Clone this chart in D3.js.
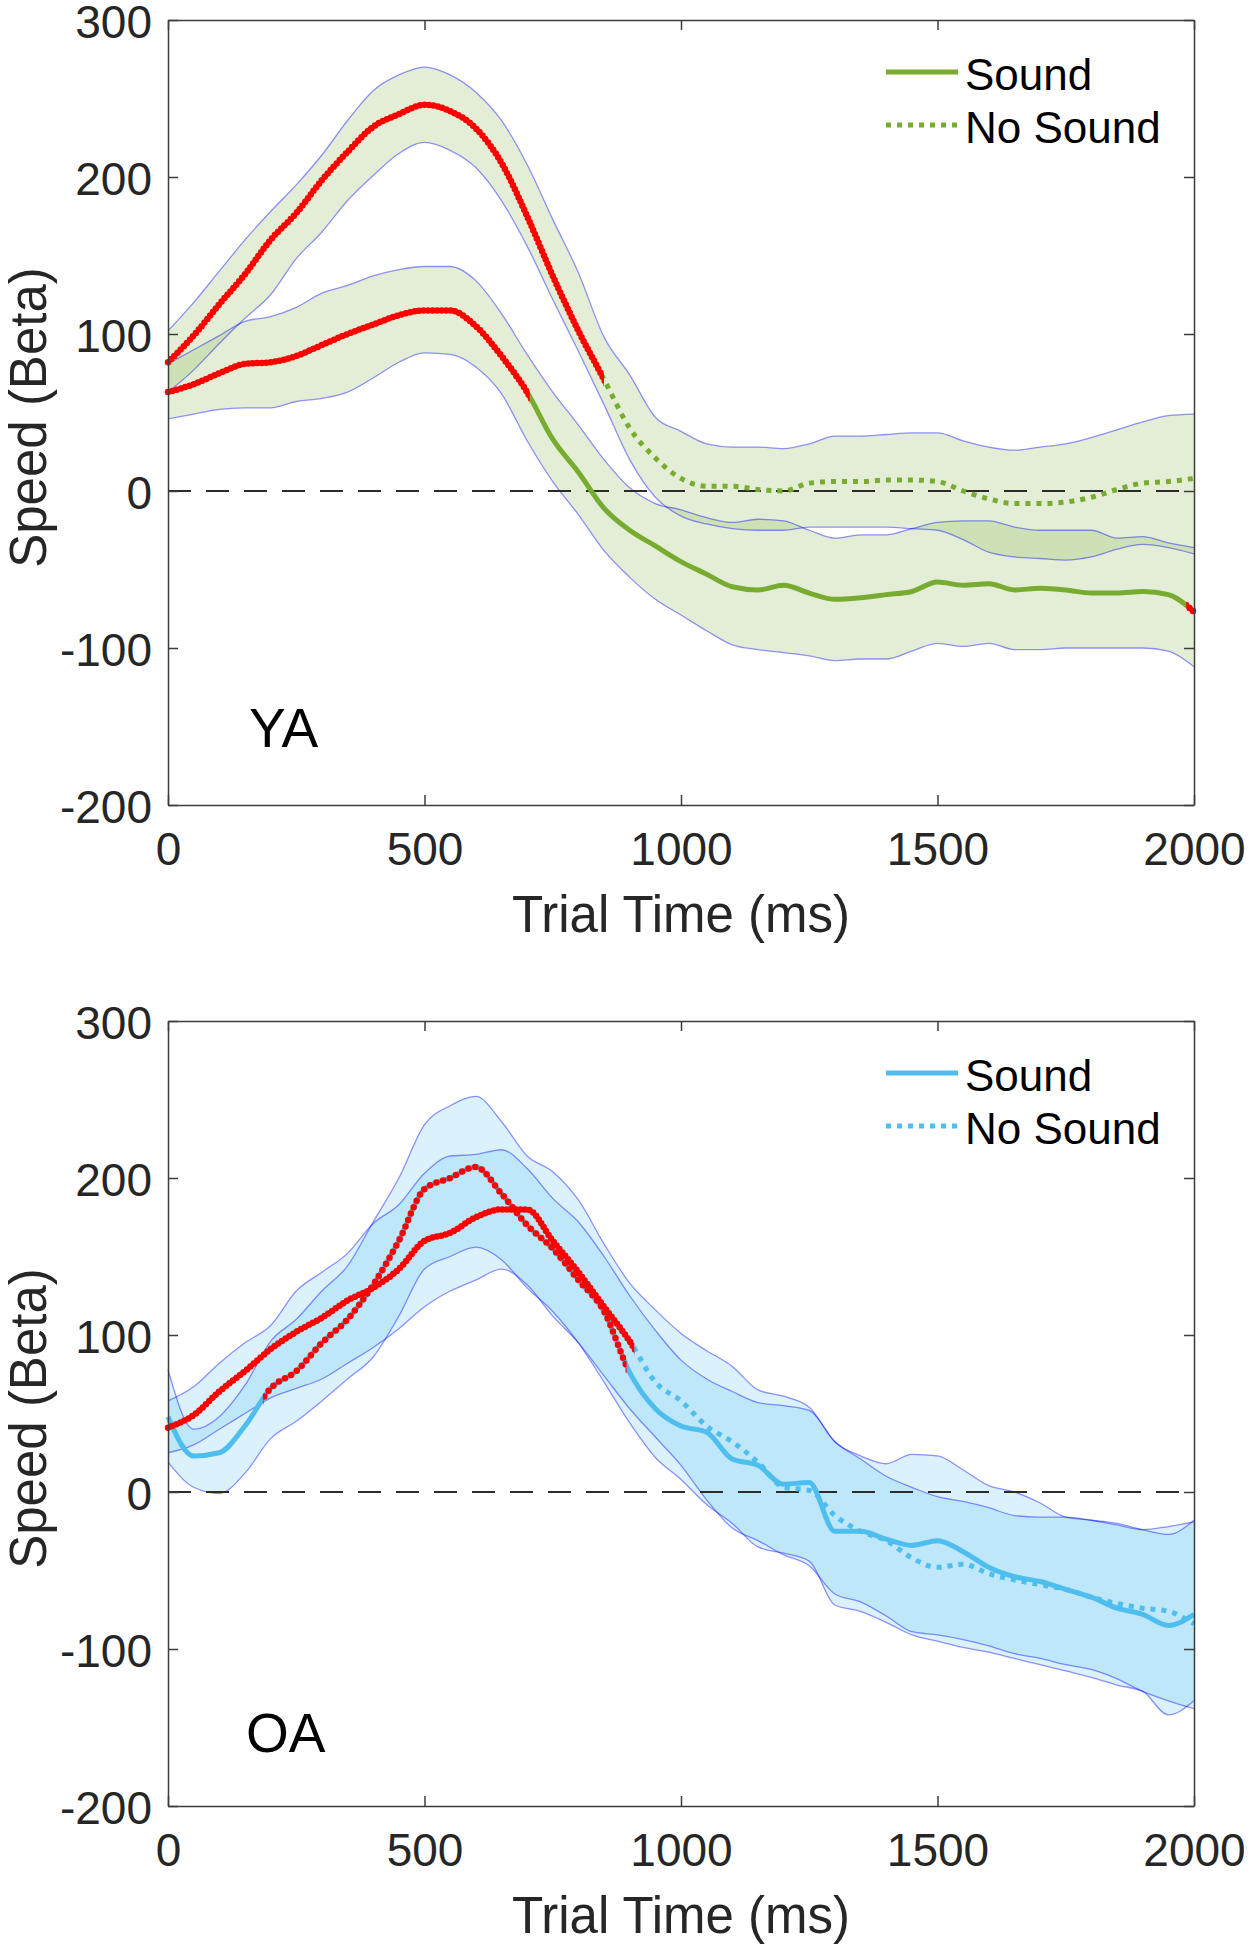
<!DOCTYPE html>
<html><head><meta charset="utf-8">
<script src="https://cdn.jsdelivr.net/npm/d3@7"></script>
<style>
body{margin:0;background:#fff;}
svg{display:block;}
</style>
</head><body>
<svg id="chart" width="1251" height="1950"></svg>
<script>
// ---------- data ----------
const timeMs = [0,50,100,150,200,250,300,350,400,450,500,550,600,650,700,750,800,850,900,950,1000,1050,1100,1150,1200,1250,1300,1350,1400,1450,1500,1550,1600,1650,1700,1750,1800,1850,1900,1950,2000];
const xTicks = [0,500,1000,1500,2000];
const xTickLabels = ["0","500","1000","1500","2000"];
const yTicks = [300,200,100,0,-100,-200];
const yTickLabels = ["300","200","100","0","-100","-200"];
const legendLabels = ["Sound","No Sound"];
const groupLabels = ["YA","OA"];

// Young adults (YA)
const yaSoundMean = [63,68,75,81,82,86,93,100,106,112,115,115,105,86,63,33,12,-11,-25,-35,-45,-53,-61,-63,-60,-65,-69,-68,-66,-64,-58,-60,-59,-63,-62,-63,-65,-65,-64,-66,-77];
const yaSoundHi   = [81,90,99,108,111,117,126,131,137,141,143,143,134,113,87,63,42,20,2,-8,-12,-17,-20,-18,-19,-25,-30,-28,-28,-24,-20,-19,-19,-23,-25,-25,-25,-30,-29,-33,-36];
const yaSoundLo   = [46,49,52,53,53,57,59,63,72,82,88,87,79,62,32,6,-15,-38,-55,-69,-79,-89,-98,-101,-103,-105,-108,-107,-107,-102,-97,-99,-97,-101,-101,-100,-100,-100,-100,-102,-112];
const yaNoSoundMean = [82,99,119,138,160,177,198,216,232,240,246,242,231,209,175,137,102,71,40,21,8,3,3,1,0,5,6,6,7,7,6,0,-5,-8,-8,-7,-4,1,5,6,8];
const yaNoSoundHi   = [102,120,140,160,178,195,214,236,255,265,270,265,254,236,208,173,139,98,74,47,38,30,28,28,27,30,35,35,36,37,37,32,28,26,28,30,34,39,44,48,49];
const yaNoSoundLo   = [63,77,94,110,125,148,165,185,201,215,222,217,206,185,156,122,89,55,20,-4,-16,-21,-24,-25,-25,-23,-23,-23,-23,-24,-25,-31,-39,-42,-43,-44,-42,-37,-34,-36,-40];
const yaSoundSig = [[0,705],[1985,2000]];
const yaNoSoundSig = [[0,850]];

// Older adults (OA)
const oaSoundMean = [48,23,25,42,66,77,95,110,132,160,193,200,207,190,170,155,135,115,76,53,42,38,21,17,5,6,-25,-25,-30,-34,-31,-38,-48,-54,-57,-62,-67,-74,-78,-85,-78];
const oaSoundHi   = [78,40,48,68,96,110,128,144,172,200,234,246,252,236,214,204,186,158,133,116,101,90,80,65,61,54,32,23,18,24,23,14,4,0,-7,-16,-18,-20,-24,-27,-18];
const oaSoundLo   = [19,3,-1,12,34,45,58,72,86,112,142,150,156,148,130,115,95,70,44,22,8,-8,-20,-35,-39,-44,-72,-76,-83,-91,-95,-99,-102,-106,-110,-114,-118,-123,-127,-142,-133];
const oaNoSoundMean = [41,49,64,77,91,102,111,122,130,142,160,165,175,180,180,160,140,118,96,70,58,42,32,19,3,1,-15,-25,-31,-42,-48,-46,-52,-56,-59,-62,-67,-71,-74,-76,-84];
const oaNoSoundHi   = [58,67,82,95,106,128,140,152,171,183,203,214,215,218,206,187,172,150,125,103,84,72,64,57,55,52,32,21,10,3,-3,-6,-10,-15,-16,-16,-18,-21,-24,-22,-19];
const oaNoSoundLo   = [25,30,40,50,60,66,72,82,92,104,118,128,135,142,132,112,95,74,53,35,17,-5,-23,-31,-40,-47,-65,-70,-79,-89,-91,-94,-98,-103,-106,-110,-113,-119,-127,-133,-138];
const oaSoundSig = [[185,894]];
const oaNoSoundSig = [[0,909]];

// ---------- drawing ----------
const FONT = '"Liberation Sans", Arial, Helvetica, sans-serif';
const svg = d3.select("#chart");
const defs = svg.append("defs");

const panels = [
  {top:20, bottom:805, color:"#77ac30", label:groupLabels[0], labelX:249, labelY:747,
   sMean:yaSoundMean, sHi:yaSoundHi, sLo:yaSoundLo, sSig:yaSoundSig,
   nMean:yaNoSoundMean, nHi:yaNoSoundHi, nLo:yaNoSoundLo, nSig:yaNoSoundSig},
  {top:1021, bottom:1806, color:"#4dbeee", label:groupLabels[1], labelX:246, labelY:1752,
   sMean:oaSoundMean, sHi:oaSoundHi, sLo:oaSoundLo, sSig:oaSoundSig,
   nMean:oaNoSoundMean, nHi:oaNoSoundHi, nLo:oaNoSoundLo, nSig:oaNoSoundSig}
];

panels.forEach((p, pi) => {
  const x = d3.scaleLinear().domain([0,2000]).range([168,1194]);
  const y = d3.scaleLinear().domain([-200,300]).range([p.bottom,p.top]);
  const g = svg.append("g");
  const curve = d3.curveMonotoneX;
  const areaGen = (hi, lo) => d3.area()
      .x((d,j) => x(timeMs[j])).y0((d,j) => y(lo[j])).y1((d,j) => y(hi[j])).curve(curve)(timeMs);
  const lineGen = (arr) => d3.line()
      .x((d,j) => x(timeMs[j])).y((d,j) => y(arr[j])).curve(curve)(timeMs);

  // confidence bands
  [[p.sHi,p.sLo],[p.nHi,p.nLo]].forEach(([hi,lo]) => {
    g.append("path").attr("d", areaGen(hi,lo))
      .attr("fill", p.color).attr("fill-opacity", 0.2).attr("stroke","none");
  });
  [p.sHi,p.sLo,p.nHi,p.nLo].forEach(a => {
    g.append("path").attr("d", lineGen(a)).attr("fill","none")
      .attr("stroke","#0000ff").attr("stroke-opacity",0.42).attr("stroke-width",1.3);
  });

  // zero reference line
  g.append("line").attr("x1",x(0)).attr("x2",x(2000)).attr("y1",y(0)).attr("y2",y(0))
    .attr("stroke","#2b2b2b").attr("stroke-width",2).attr("stroke-dasharray","23,15");

  // mean lines
  g.append("path").attr("d", lineGen(p.nMean)).attr("fill","none")
    .attr("stroke",p.color).attr("stroke-width",5).attr("stroke-dasharray","5,6");
  g.append("path").attr("d", lineGen(p.sMean)).attr("fill","none")
    .attr("stroke",p.color).attr("stroke-width",5);

  // significance overlays (red)
  const redOverlay = (arr, ranges, key) => {
    ranges.forEach((r, ri) => {
      const id = `clip-${pi}-${key}-${ri}`;
      defs.append("clipPath").attr("id", id).append("rect")
        .attr("x", x(r[0]) - (r[0] === 0 ? 4 : 0))
        .attr("width", x(r[1]) - x(r[0]) + (r[0] === 0 ? 4 : 0) + (r[1] === 2000 ? 4 : 0))
        .attr("y", p.top - 30).attr("height", p.bottom - p.top + 60);
      g.append("path").attr("d", lineGen(arr)).attr("fill","none")
        .attr("clip-path", `url(#${id})`)
        .attr("stroke","#ff0000").attr("stroke-width",6.5)
        .attr("stroke-linecap","round")
        .attr("stroke-dasharray", key === "s" && pi === 1 ? "0,7" : "0,4.5");
    });
  };
  redOverlay(p.nMean, p.nSig, "n");
  redOverlay(p.sMean, p.sSig, "s");

  // axes (box with inward ticks)
  const styleAxis = sel => {
    sel.attr("font-family", FONT).attr("font-size", 46).attr("color", "#262626");
    sel.selectAll("line").attr("stroke", "#3c3c3c").attr("stroke-width", 1.5);
    sel.selectAll(".domain").attr("stroke", "#3c3c3c").attr("stroke-width", 1.5);
  };
  g.append("g").attr("transform", `translate(0,${p.bottom})`)
    .call(d3.axisBottom(x).tickValues(xTicks).tickFormat((d,i) => xTickLabels[i])
      .tickSizeInner(-10).tickSizeOuter(0).tickPadding(27))
    .call(styleAxis);
  g.append("g").attr("transform", `translate(0,${p.top})`)
    .call(d3.axisTop(x).tickValues(xTicks).tickFormat(() => "")
      .tickSizeInner(-10).tickSizeOuter(0))
    .call(styleAxis);
  const yAxisG = g.append("g").attr("transform", `translate(168,0)`)
    .call(d3.axisLeft(y).tickValues(yTicks).tickFormat((d,i) => yTickLabels[i])
      .tickSizeInner(-10).tickSizeOuter(0).tickPadding(16))
    .call(styleAxis);
  yAxisG.selectAll("text").attr("dy", "0.38em");
  g.append("g").attr("transform", `translate(1194,0)`)
    .call(d3.axisRight(y).tickValues(yTicks).tickFormat(() => "")
      .tickSizeInner(-10).tickSizeOuter(0))
    .call(styleAxis);

  // axis titles
  g.append("text").attr("x", 681).attr("y", p.bottom + 127)
    .attr("text-anchor","middle").attr("font-family",FONT).attr("font-size",51).attr("fill","#262626")
    .text("Trial Time (ms)");
  g.append("text").attr("transform", `translate(46,${(p.top+p.bottom)/2 + 5}) rotate(-90)`)
    .attr("text-anchor","middle").attr("font-family",FONT).attr("font-size",51).attr("fill","#262626")
    .text("Speed (Beta)");

  // group label
  g.append("text").attr("x", p.labelX).attr("y", p.labelY)
    .attr("font-family",FONT).attr("font-size",55).attr("fill","#000")
    .text(p.label);

  // legend
  const leg = g.append("g");
  [[0, null],[1, "5,6"]].forEach(([i, dash]) => {
    const ly = p.top + 52 + i*53;
    const ln = leg.append("line").attr("x1",886).attr("x2",958).attr("y1",ly).attr("y2",ly)
      .attr("stroke",p.color).attr("stroke-width",5);
    if (dash) ln.attr("stroke-dasharray", dash);
    leg.append("text").attr("x",965).attr("y",ly + 18)
      .attr("font-family",FONT).attr("font-size",44).attr("fill","#000")
      .text(legendLabels[i]);
  });
});
</script>
</body></html>
